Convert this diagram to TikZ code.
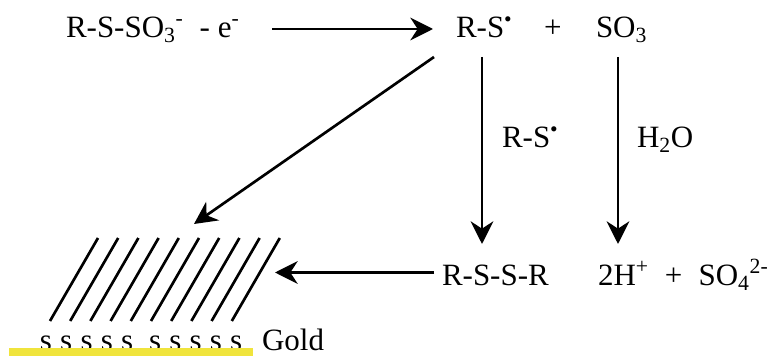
\documentclass[tikz,border=0pt]{standalone}
\usepackage{xcolor}
\usepackage{fontspec}
\setmainfont{Liberation Serif}
\usepackage{tikz}
\usetikzlibrary{arrows.meta}
\definecolor{goldyellow}{RGB}{240, 228, 60}
\newcommand{\rad}{\textsuperscript{\raisebox{-0.1ex}{•}}}

\begin{document}
\begin{tikzpicture}[
        x=0.75pt, y=-0.75pt,
        chem/.style={anchor=base west, inner sep=0pt, outer sep=0pt, font=\fontsize{23.25}{28}\selectfont},
        arr/.style={-{Stealth[length=17pt, width=17pt, inset=5.5pt]}, line width=2pt, black},
        chain/.style={line width=2pt, black}
      ]
        \useasboundingbox (0,0) rectangle (769,356);
        % reaction species
        \node[chem] (thio) at (66,38) {R-S-SO\textsubscript{3}\textsuperscript{-}\hspace{0.52em}- e\textsuperscript{-}};
        \node[chem] (radical) at (456,38) {R-S\rad};
        \node[chem] (plus) at (544,38) {+};
        \node[chem] (sothree) at (596,38) {SO\textsubscript{3}};
        \node[chem] (radlabel) at (502,148) {R-S\rad};
        \node[chem] (water) at (637,148) {H\textsubscript{2}O};
        \node[chem] (disulfide) at (442,286) {R-S-S-R};
        \node[chem] (sulfate) at (598,286) {2H\textsuperscript{+}\hspace{0.52em}+\hspace{0.52em}SO\textsubscript{4}\textsuperscript{2-}};
        % gold surface
        \node[chem] (thiols) at (40,351) {\spaceskip=0.265em s s s s s\hspace{0.25em} s s s s s};
        \node[chem] (gold) at (262,351) {Gold};
        \fill[goldyellow] (9,348) rectangle (253,356);
        % monolayer
        \foreach \i in {0,...,9} {
          \draw[chain] (50+20.2*\i,321) -- (98+20.2*\i,238);
        }
        \coordinate (layertop) at (194,224);
        \coordinate (layeredge) at (275,272.5);
        % connectors
        \draw[arr] ([shift={(33,-9)}]thio.base east) -- ([shift={(-23,-9)}]radical.base west);
        \draw[arr] ([shift={(-22,19)}]radical.base west) -- (layertop);
        \draw[arr] ([shift={(26,19)}]radical.base west) -- ([shift={(40,-42)}]disulfide.base west);
        \draw[arr] ([shift={(22,19)}]sothree.base west) -- ([shift={(20,-42)}]sulfate.base west);
        \draw[arr] ([shift={(-8,-13.5)}]disulfide.base west) -- (layeredge);
      \end{tikzpicture}
\end{document}
